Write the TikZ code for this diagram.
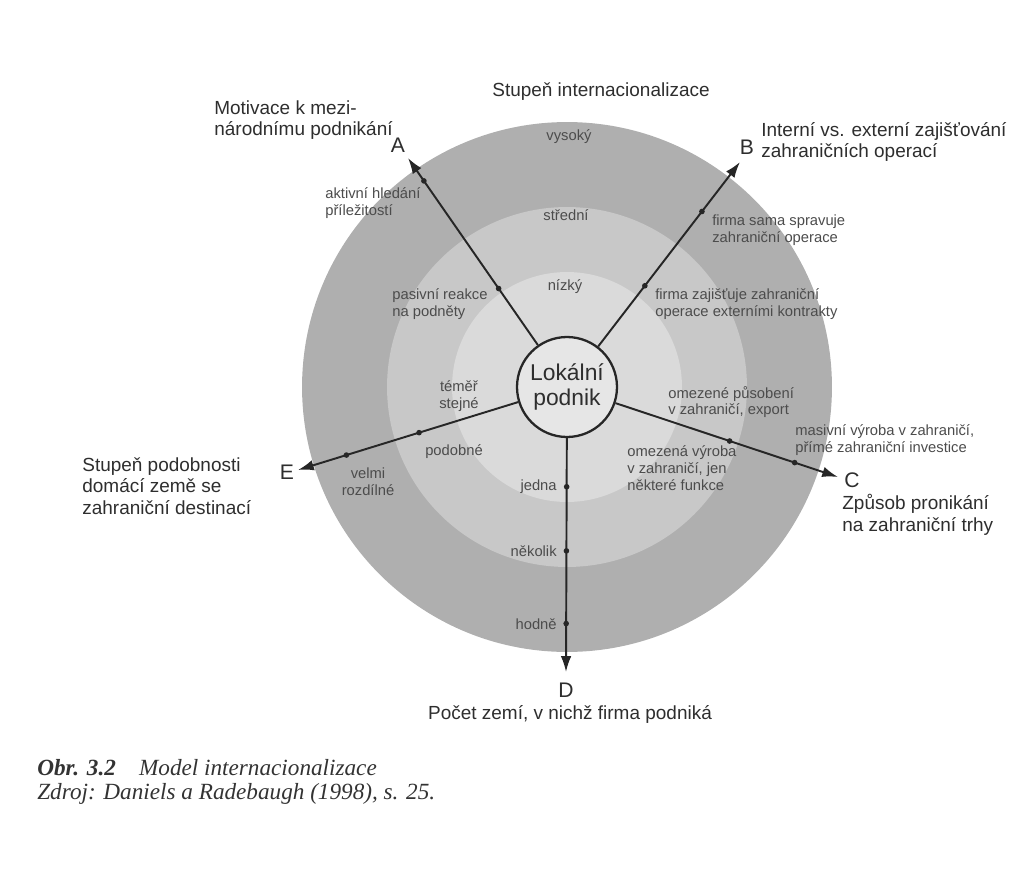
\documentclass[tikz,border=0pt]{standalone}
\usepackage{fontspec}
\setmainfont{Liberation Sans}
\newfontfamily\capfont{Liberation Serif}
\usetikzlibrary{arrows.meta,calc}

\definecolor{ringouter}{HTML}{AFAFAF}
\definecolor{ringmid}{HTML}{C8C8C8}
\definecolor{ringinner}{HTML}{DADADA}
\definecolor{corefill}{HTML}{E6E6E6}
\definecolor{inktext}{HTML}{2E2E2E}
\definecolor{softtext}{HTML}{4C4C4C}

\begin{document}
\begin{tikzpicture}[x=0.02cm, y=-0.02cm,
    outer/.style={text=inktext, font=\fontsize{10.8}{12.2}\selectfont, inner sep=0pt},
    letter/.style={text=inktext, font=\fontsize{12}{13}\selectfont, inner sep=0pt},
    small/.style={text=softtext, font=\fontsize{8.4}{9.5}\selectfont, inner sep=0pt},
    arr/.style={-{Latex[length=9pt,width=6pt]}, line width=1.1pt, draw=black!85},
    dot/.style={circle, fill=black!85, inner sep=0pt, minimum size=3.2pt},
    caption/.style={text=black!80, font=\capfont\itshape\fontsize{13.2}{15}\selectfont, inner sep=0pt}]
    \useasboundingbox (0,0) rectangle (1032,869);

    % Rings
    \fill[ringouter] (567,387) circle (5.3cm);
    \fill[ringmid] (567,387) circle (3.6cm);
    \fill[ringinner] (567,387) circle (2.3cm);

    \node[small] (vysoky) at (569,137) {vysoký};
    \node[small] (stredni) at (566,215) {střední};
    \node[small] (nizky) at (565,287) {nízký};

    % Centre
    \node[circle, draw=black!85, line width=1.3pt, fill=corefill, minimum size=2cm,
        align=center, text=inktext, font=\fontsize{13}{14.5}\selectfont, inner sep=0pt]
        (lokal) at (567,387) {Lokální\\podnik};

    % Arrow tips
    \coordinate (tipA) at (408,158);
    \coordinate (tipB) at (740,162);
    \coordinate (tipC) at (838,477);
    \coordinate (tipD) at (566,672);
    \coordinate (tipE) at (298,470);

    \draw[arr] (lokal) -- (tipA);
    \draw[arr] (lokal) -- (tipB);
    \draw[arr] (lokal) -- (tipC);
    \draw[arr] (lokal) -- (tipD);
    \draw[arr] (lokal) -- (tipE);

    \node[dot] at ($(lokal)!0.43!(tipA)$) {};
    \node[dot] at ($(lokal)!0.90!(tipA)$) {};
    \node[dot] at ($(lokal)!0.45!(tipB)$) {};
    \node[dot] at ($(lokal)!0.78!(tipB)$) {};
    \node[dot] at ($(lokal)!0.60!(tipC)$) {};
    \node[dot] at ($(lokal)!0.84!(tipC)$) {};
    \node[dot] at ($(lokal)!0.35!(tipD)$) {};
    \node[dot] at ($(lokal)!0.575!(tipD)$) {};
    \node[dot] at ($(lokal)!0.83!(tipD)$) {};
    \node[dot] at ($(lokal)!0.55!(tipE)$) {};
    \node[dot] at ($(lokal)!0.82!(tipE)$) {};

    \node[letter] (A) at (398,145) {A};
    \node[letter] (B) at (747,147) {B};
    \node[letter] (C) at (852,480) {C};
    \node[letter] (D) at (566,690) {D};
    \node[letter] (E) at (287,472) {E};

    % Ring labels along the arrows
    \node[small, anchor=west, align=left] (aktivni) at (325,203) {aktivní hledání\\příležitostí};
    \node[small, anchor=west, align=left] (pasivni) at (392,304) {pasivní reakce\\na podněty};
    \node[small, anchor=west, align=left] (sama) at (712,230) {firma sama spravuje\\zahraniční operace};
    \node[small, anchor=west, align=left] (zajistuje) at (655,304) {firma zajišťuje zahraniční\\operace externími kontrakty};
    \node[small, anchor=west, align=left] (omezpus) at (668,402) {omezené působení\\v zahraničí, export};
    \node[small, anchor=west, align=left] (omezvyr) at (627,468) {omezená výroba\\v zahraničí, jen\\některé funkce};
    \node[small, anchor=west, align=left] (masivni) at (795,440) {masivní výroba v zahraničí,\\přímé zahraniční investice};
    \node[small, align=center] (stejne) at (459,396) {téměř\\stejné};
    \node[small] (podobne) at (454,452) {podobné};
    \node[small, align=center] (rozdilne) at (368,482) {velmi\\rozdílné};
    \node[small, anchor=east] (jedna) at (557,487) {jedna};
    \node[small, anchor=east] (nekolik) at (557,551) {několik};
    \node[small, anchor=east] (hodne) at (557,624) {hodně};

    % Axis titles
    \node[outer, anchor=west, align=left] (motivace) at (214,120) {Motivace k mezi-\\národnímu podnikání};
    \node[outer] (stupen) at (601,92) {Stupeň internacionalizace};
    \node[outer, anchor=west, align=left] (interni) at (761,142) {Interní vs. externí zajišťování\\zahraničních operací};
    \node[outer, anchor=west, align=left] (podobnost) at (82,486) {Stupeň podobnosti\\domácí země se\\zahraniční destinací};
    \node[outer, anchor=north west, align=left] (zpusob) at (842,494) {Způsob pronikání\\na zahraniční trhy};
    \node[outer] (pocet) at (570,714) {Počet zemí, v nichž firma podniká};

    % Caption
    \node[caption, anchor=west] (obr) at (37,768) {\textbf{Obr. 3.2}\quad Model internacionalizace};
    \node[caption, anchor=west] (zdroj) at (37,794) {Zdroj: Daniels a Radebaugh (1998), s. 25.};

\end{tikzpicture}
\end{document}
